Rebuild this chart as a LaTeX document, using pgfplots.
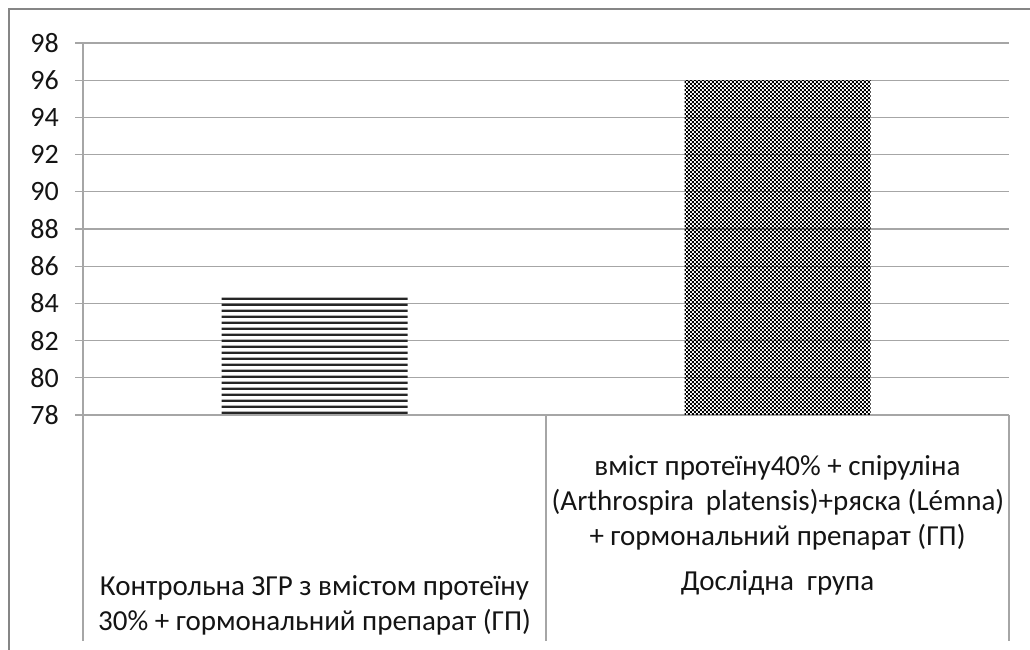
\documentclass[border=0pt]{standalone}
\usepackage{pgfplots}
\pgfplotsset{compat=1.18}
\usepackage{fontspec}
\setmainfont{Carlito}
\usetikzlibrary{patterns}

\definecolor{gridgray}{HTML}{A6A6A6}
\definecolor{framegray}{HTML}{868686}
\definecolor{txt}{HTML}{141414}

% dense horizontal stripes and fine checkerboard, like the Excel fills
% (stripe tile is wider than the picture, so no seams fall inside the bar)
\pgfdeclarepatternformonly{hstripes}{\pgfpointorigin}{\pgfpoint{1200bp}{5.75bp}}{\pgfpoint{1200bp}{5.75bp}}{%
  \pgfpathrectangle{\pgfpointorigin}{\pgfpoint{1200bp}{2.4bp}}\pgfusepath{fill}}
\pgfdeclarepatternformonly{checker}{\pgfpointorigin}{\pgfpoint{4.4bp}{4.4bp}}{\pgfpoint{4.4bp}{4.4bp}}{%
  \pgfpathrectangle{\pgfpointorigin}{\pgfpoint{2.2bp}{2.2bp}}%
  \pgfpathrectangle{\pgfpoint{2.2bp}{2.2bp}}{\pgfpoint{2.2bp}{2.2bp}}\pgfusepath{fill}}

\begin{document}
\begin{tikzpicture}
  \useasboundingbox (0,0) rectangle (1030bp,650bp);
  \begin{axis}[
      at={(83bp,235bp)}, anchor=south west,
      scale only axis,
      width=926bp, height=372bp,
      ybar, bar width=186bp, bar shift=0pt,
      xmin=-0.5, xmax=1.5,
      ymin=78, ymax=98,
      ytick={78,80,...,98},
      xtick=\empty,
      ymajorgrids,
      grid style={gridgray, line width=1.3bp},
      axis line style={gridgray, line width=1.3bp},
      axis x line=bottom,
      axis y line=left,
      tick align=outside,
      ytick style={gridgray, line width=1.3bp},
      major tick length=8bp,
      yticklabel style={font=\fontsize{28bp}{30bp}\selectfont, text=txt, inner sep=0pt, xshift=-16bp},
      /pgf/number format/assume math mode=true,
      x axis line style={-}, y axis line style={-},
    ]
    \addplot[draw=none, pattern=hstripes, pattern color=black!85] coordinates {(0,84.4)};
    \addplot[draw=none, pattern=checker, pattern color=black] coordinates {(1,96)};
  \end{axis}

  % category box below the axis
  \draw[gridgray, line width=1.3bp] (83bp,235bp) -- (83bp,9bp)
    (546bp,235bp) -- (546bp,9bp) (1009bp,235bp) -- (1009bp,9bp);

  \begin{scope}[every node/.style={anchor=base, text=txt, inner sep=0pt,
      font=\fontsize{29bp}{32bp}\selectfont}]
    \node at (314.5bp,54bp) {Контрольна ЗГР з вмістом протеїну};
    \node at (314.5bp,20bp) {30\% + гормональний препарат (ГП)};
    \node at (777.5bp,174bp) {вміст протеїну40\% + спіруліна};
    \node at (778bp,139bp) {(Arthrospira\hspace{12bp}platensis)+ряска (Lémna)};
    \node at (777.5bp,104bp) {+ гормональний препарат (ГП)};
    \node at (777.5bp,59bp) {Дослідна\ \ група};
  \end{scope}

  % outer chart frame (right and bottom edges fall outside the picture)
  \draw[framegray, line width=2.8bp] (9bp,-20bp) -- (9bp,641bp) -- (1060bp,641bp);
\end{tikzpicture}
\end{document}
